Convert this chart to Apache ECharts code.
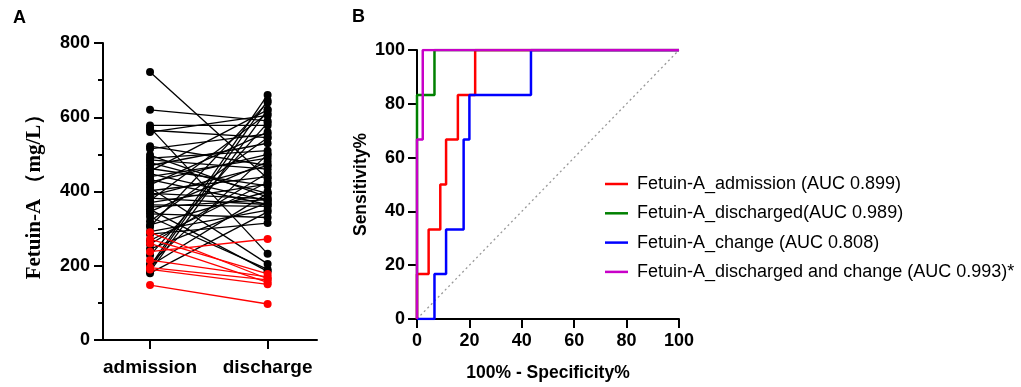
<!DOCTYPE html>
<html>
<head>
<meta charset="utf-8">
<script src="https://cdn.jsdelivr.net/npm/echarts@6/dist/echarts.min.js"></script>
<style>
  html, body { margin: 0; padding: 0; background: #fff; }
  #chart { width: 1021px; height: 387px; }
</style>
</head>
<body>
<div id="chart"></div>
<script>
// panel A: paired values, admission -> discharge (mg/L)
var groupLabels = ['admission', 'discharge']
var blackAdmission = [722, 620, 578, 572, 565, 560, 522, 515, 498, 490, 485, 478, 470, 462, 455, 448,
  440, 432, 425, 418, 410, 402, 395, 388, 382, 376, 370, 364, 358, 352, 346, 340,
  332, 320, 310, 305, 292, 285, 268, 258, 245, 228, 205, 198, 192, 185, 180, 200]
var blackDischarge = [435, 590, 578, 232, 545, 605, 470, 555, 385, 510, 460, 395, 530, 415, 620, 375,
  490, 365, 500, 560, 205, 440, 380, 470, 365, 610, 420, 360, 378, 185, 480, 330,
  190, 545, 400, 640, 350, 315, 425, 450, 370, 585, 500, 660, 645, 620, 345, 395]
var redAdmission = [148, 190, 195, 215, 238, 272, 290, 260]
var redDischarge = [97, 150, 162, 170, 272, 178, 165, 155]

// panel B: ROC staircases (100% - specificity%, sensitivity%)
var rocNames = ['Fetuin-A_admission (AUC 0.899)', 'Fetuin-A_discharged(AUC 0.989)',
  'Fetuin-A_change (AUC 0.808)', 'Fetuin-A_discharged and change (AUC 0.993)*']
var rocColors = ['#ff0000', '#008000', '#0000ff', '#c800c8']
var admX = [0, 0, 4.44, 4.44, 8.89, 8.89, 11.1, 11.1, 15.6, 15.6, 22.2, 22.2, 100]
var admY = [0, 16.7, 16.7, 33.3, 33.3, 50, 50, 66.7, 66.7, 83.3, 83.3, 100, 100]
var disX = [0, 0, 6.67, 6.67, 100]
var disY = [0, 83.3, 83.3, 100, 100]
var chgX = [0, 6.67, 6.67, 11.1, 11.1, 17.8, 17.8, 20, 20, 43.5, 43.5, 100]
var chgY = [0, 0, 16.7, 16.7, 33.3, 33.3, 66.7, 66.7, 83.3, 83.3, 100, 100]
var bothX = [0, 0, 2.2, 2.2, 100]
var bothY = [0, 66.7, 66.7, 100, 100]
var diagX = [0, 100]
var diagY = [0, 100]

var FONT = 'Arial, "Liberation Sans", sans-serif'

function zip (xs, ys) {
  return xs.map(function (x, i) { return [x, ys[i]] })
}

var series = []
// paired lines, black then red on top
function addPairs (adm, dis, color) {
  adm.forEach(function (a, i) {
    series.push({
      type: 'line',
      xAxisIndex: 0,
      yAxisIndex: 0,
      data: [[0, a], [1, dis[i]]],
      symbol: 'circle',
      symbolSize: 8,
      itemStyle: { color: color },
      lineStyle: { color: color, width: 1.3 },
      silent: true,
      z: 3
    })
  })
}
addPairs(blackAdmission, blackDischarge, '#000')
addPairs(redAdmission, redDischarge, '#ff0000')

series.push({
  type: 'line',
  xAxisIndex: 1,
  yAxisIndex: 1,
  data: zip(diagX, diagY),
  symbol: 'none',
  lineStyle: { color: '#999', width: 1.3, type: [2, 3] },
  silent: true,
  z: 2
})
var rocX = [admX, disX, chgX, bothX]
var rocY = [admY, disY, chgY, bothY]
rocNames.forEach(function (name, k) {
  series.push({
    name: name,
    type: 'line',
    xAxisIndex: 1,
    yAxisIndex: 1,
    data: zip(rocX[k], rocY[k]),
    symbol: 'none',
    lineStyle: { color: rocColors[k], width: 2.5 },
    itemStyle: { color: rocColors[k] },
    z: 3 + k
  })
})

var axisLine = { onZero: false, lineStyle: { color: '#000', width: 2 } }
var boldLabel = { color: '#000', fontFamily: FONT, fontWeight: 'bold', fontSize: 18 }

var option = {
  animation: false,
  backgroundColor: '#fff',
  title: [
    { text: 'A', left: 8, top: 4, textStyle: { fontFamily: FONT, fontWeight: 'bold', fontSize: 18, color: '#000' } },
    { text: 'B', left: 347, top: 3, textStyle: { fontFamily: FONT, fontWeight: 'bold', fontSize: 18, color: '#000' } }
  ],
  legend: {
    data: rocNames,
    orient: 'vertical',
    left: 600,
    top: 170,
    icon: 'rect',
    itemWidth: 23,
    itemHeight: 2.5,
    itemGap: 11.3,
    textStyle: { fontFamily: FONT, fontSize: 18, color: '#000', lineHeight: 18, padding: [0, 0, 0, 4] },
    selectedMode: false
  },
  grid: [
    { left: 103, top: 43, width: 214, height: 297 },
    { left: 417, top: 50, width: 262, height: 270 }
  ],
  xAxis: [
    {
      gridIndex: 0,
      type: 'value',
      min: -0.4,
      max: 1.42,
      splitLine: { show: false },
      axisLine: axisLine,
      axisTick: { show: true, customValues: [0, 1], length: 9, lineStyle: { color: '#000', width: 2 } },
      axisLabel: Object.assign({ customValues: [0, 1], margin: 18, fontSize: 19,
        formatter: function (v) { return groupLabels[Math.round(v)] } }, boldLabel, { fontSize: 19 })
    },
    {
      gridIndex: 1,
      type: 'value',
      min: 0,
      max: 100,
      interval: 20,
      splitLine: { show: false },
      axisLine: axisLine,
      axisTick: { length: 9, lineStyle: { color: '#000', width: 2 } },
      axisLabel: Object.assign({ margin: 13 }, boldLabel),
      name: '100% - Specificity%',
      nameLocation: 'middle',
      nameGap: 45,
      nameTextStyle: { fontFamily: FONT, fontWeight: 'bold', fontSize: 17.5, color: '#000' }
    }
  ],
  yAxis: [
    {
      gridIndex: 0,
      type: 'value',
      min: 0,
      max: 800,
      interval: 200,
      splitLine: { show: false },
      axisLine: axisLine,
      axisTick: { length: 9, lineStyle: { color: '#000', width: 2 } },
      minorTick: { show: true, splitNumber: 2, length: 5, lineStyle: { color: '#000', width: 2 } },
      axisLabel: Object.assign({ margin: 13 }, boldLabel),
      name: 'Fetuin-A （mg/L）',
      nameLocation: 'middle',
      nameGap: 58,
      nameTextStyle: { fontFamily: '"Times New Roman", "Liberation Serif", serif', fontWeight: 'bold', fontSize: 21, color: '#000' }
    },
    {
      gridIndex: 1,
      type: 'value',
      min: 0,
      max: 100,
      interval: 20,
      splitLine: { show: false },
      axisLine: axisLine,
      axisTick: { length: 9, lineStyle: { color: '#000', width: 2 } },
      axisLabel: Object.assign({ margin: 12 }, boldLabel),
      name: 'Sensitivity%',
      nameLocation: 'middle',
      nameGap: 47,
      nameTextStyle: { fontFamily: FONT, fontWeight: 'bold', fontSize: 17.5, color: '#000' }
    }
  ],
  series: series
}

var chart = echarts.init(document.getElementById('chart'), null, { renderer: 'canvas' })
chart.setOption(option)
</script>
</body>
</html>
